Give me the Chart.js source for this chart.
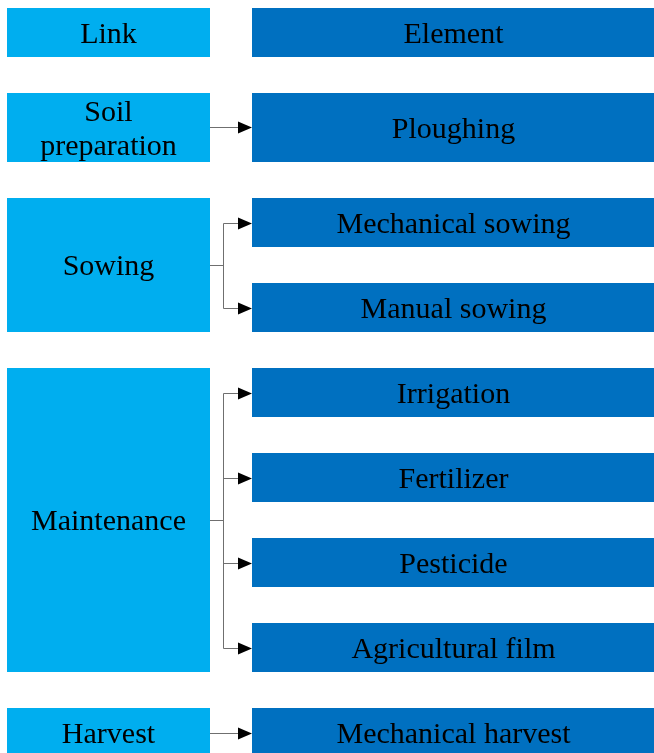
<!DOCTYPE html>
<html>
<head>
<meta charset="utf-8">
<script src="https://cdn.jsdelivr.net/npm/chart.js@4/dist/chart.umd.min.js"></script>
<style>
  html, body { margin: 0; padding: 0; background: #fff; }
  #flow { display: block; }
</style>
</head>
<body>
<canvas id="flow" width="654" height="753"></canvas>
<script>
// stage boxes (left column)
const links = ['Link', 'Soil\npreparation', 'Sowing', 'Maintenance', 'Harvest'];
const linkTop = [8, 93, 198, 368, 708];
const linkBottom = [57, 162, 332, 672, 770];

// element boxes (right column) and which stage each belongs to
const elements = ['Element', 'Ploughing', 'Mechanical sowing', 'Manual sowing',
  'Irrigation', 'Fertilizer', 'Pesticide', 'Agricultural film', 'Mechanical harvest'];
const elementParent = [null, 1, 2, 2, 3, 3, 3, 3, 4];
const elementTop = [8, 93, 198, 283, 368, 453, 538, 623, 708];
const elementBottom = [57, 162, 247, 332, 417, 502, 587, 672, 770];

// column spans on the x scale
const linkSpan = [7, 210];
const elementSpan = [252, 655];
const branchX = 223;

const flowPlugin = {
  id: 'flow',
  afterDatasetsDraw(chart) {
    const ctx = chart.ctx;
    const x = chart.scales.x, y = chart.scales.y;
    const px = v => x.getPixelForValue(v);
    const py = v => y.getPixelForValue(v);

    function box(x0, x1, y0, y1, fill, label) {
      ctx.fillStyle = fill;
      ctx.fillRect(px(x0), py(y0), px(x1) - px(x0), py(y1) - py(y0));
      const lines = label.split('\n');
      const cx = (px(x0) + px(x1)) / 2;
      const cy = (py(y0) + py(Math.min(y1, 757))) / 2;
      ctx.fillStyle = '#000';
      ctx.font = '30px "Liberation Serif", "Times New Roman", serif';
      ctx.textAlign = 'center';
      ctx.textBaseline = 'middle';
      const lh = 34;
      lines.forEach((t, i) => {
        ctx.fillText(t, cx, cy + (i - (lines.length - 1) / 2) * lh + 2.5);
      });
    }

    ctx.save();
    links.forEach((t, i) => box(linkSpan[0], linkSpan[1], linkTop[i], linkBottom[i], '#00AEEF', t));
    elements.forEach((t, i) => box(elementSpan[0], elementSpan[1], elementTop[i], elementBottom[i], '#0070C0', t));

    // connectors
    ctx.strokeStyle = '#6f6f6f';
    ctx.lineWidth = 1;
    links.forEach((t, li) => {
      const kids = elementParent.map((p, i) => p === li ? i : -1).filter(i => i >= 0);
      if (!kids.length) return;
      const midOf = i => (elementTop[i] + Math.min(elementBottom[i], 757)) / 2;
      const linkMid = kids.length === 1 ? midOf(kids[0]) : (linkTop[li] + linkBottom[li]) / 2;
      const ys = kids.map(midOf);
      ctx.beginPath();
      if (kids.length === 1) {
        ctx.moveTo(px(linkSpan[1]), Math.round(py(ys[0])) + 0.5);
        ctx.lineTo(px(elementSpan[0]) - 12, Math.round(py(ys[0])) + 0.5);
      } else {
        const bx = Math.round(px(branchX)) + 0.5;
        ctx.moveTo(px(linkSpan[1]), Math.round(py(linkMid)) + 0.5);
        ctx.lineTo(bx, Math.round(py(linkMid)) + 0.5);
        ctx.moveTo(bx, Math.round(py(ys[0])) + 0.5);
        ctx.lineTo(bx, Math.round(py(ys[ys.length - 1])) + 0.5);
        ys.forEach(v => {
          ctx.moveTo(bx, Math.round(py(v)) + 0.5);
          ctx.lineTo(px(elementSpan[0]) - 12, Math.round(py(v)) + 0.5);
        });
      }
      ctx.stroke();
      ctx.fillStyle = '#000';
      ys.forEach(v => {
        const tip = px(elementSpan[0]);
        const cy = Math.round(py(v)) + 0.5;
        ctx.beginPath();
        ctx.moveTo(tip, cy);
        ctx.lineTo(tip - 14, cy - 6);
        ctx.lineTo(tip - 14, cy + 6);
        ctx.closePath();
        ctx.fill();
      });
    });
    ctx.restore();
  }
};

new Chart(document.getElementById('flow').getContext('2d'), {
  type: 'scatter',
  data: { datasets: [{ data: [] }] },
  options: {
    responsive: false,
    animation: false,
    devicePixelRatio: 1,
    layout: { padding: 0 },
    plugins: { legend: { display: false }, tooltip: { enabled: false } },
    scales: {
      x: { type: 'linear', min: 0, max: 654, display: false },
      y: { type: 'linear', min: 0, max: 753, reverse: true, display: false }
    }
  },
  plugins: [flowPlugin]
});
</script>
</body>
</html>
